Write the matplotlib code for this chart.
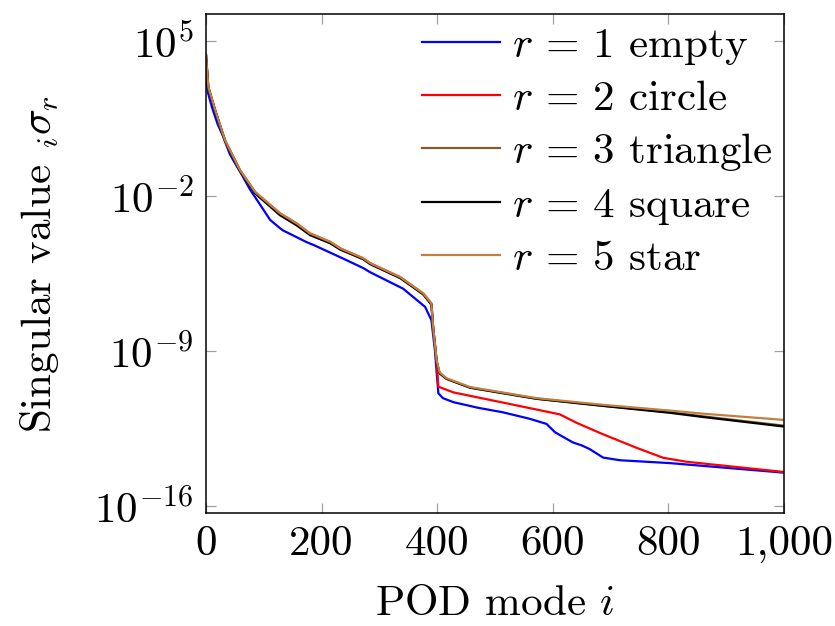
import numpy as np
import matplotlib
matplotlib.use("Agg")
import matplotlib.pyplot as plt
from matplotlib.ticker import FuncFormatter, FixedLocator, NullLocator

plt.rcParams["font.family"] = "serif"
plt.rcParams["font.serif"] = ["cmr10", "DejaVu Serif"]
plt.rcParams["mathtext.fontset"] = "cm"
plt.rcParams["axes.formatter.use_mathtext"] = True
plt.rcParams["axes.unicode_minus"] = False

# POD mode index and log10 of the singular value for each configuration
modes_r1 = [0, 1, 3, 10, 20, 30, 41, 47, 60, 76, 90, 111, 128, 133, 174, 187, 237, 272,
            284, 341, 379, 390, 396, 402, 410, 428, 470, 514, 560, 589, 604, 620, 635,
            650, 664, 687, 716, 803, 1000]
logsv_r1 = [3.85, 3.2, 2.7, 2.03, 1.25, 0.67, -0.1, -0.38, -0.95, -1.7, -2.25, -3.08,
            -3.45, -3.55, -4.08, -4.22, -4.82, -5.25, -5.44, -6.18, -7.0, -7.6, -8.95,
            -10.9, -11.12, -11.3, -11.55, -11.76, -12.05, -12.28, -12.66, -12.9, -13.12,
            -13.25, -13.42, -13.8, -13.92, -14.05, -14.48]

modes_upper = [0, 4, 16, 33, 59, 85, 128, 157, 180, 215, 232, 272, 284, 336, 376, 390,
               393, 399]
logsv_r5_upper = [4.37, 2.92, 1.87, 0.51, -0.84, -1.82, -2.78, -3.24, -3.69, -4.07,
                  -4.36, -4.81, -5.03, -5.66, -6.40, -6.85, -7.92, -9.42]
logsv_r4_upper = [4.35, 2.88, 1.83, 0.47, -0.88, -1.88, -2.86, -3.32, -3.76, -4.13,
                  -4.41, -4.85, -5.07, -5.70, -6.44, -6.90, -7.95, -9.45]

modes_tail = [404, 416, 457, 572, 687, 803, 860, 1000]
logsv_r5_tail = [-9.95, -10.22, -10.62, -11.12, -11.42, -11.68, -11.82, -12.10]
logsv_r4_tail = [-10.0, -10.25, -10.65, -11.15, -11.47, -11.78, -11.97, -12.40]
logsv_r3_tail = [-9.98, -10.24, -10.64, -11.14, -11.46, -11.76, -11.94, -12.36]

modes_r2_tail = [402, 428, 514, 612, 641, 687, 745, 791, 832, 1000]
logsv_r2_tail = [-10.6, -10.86, -11.32, -11.85, -12.23, -12.75, -13.36, -13.81, -13.99,
                 -14.45]

labels = [r"$r\,=\,1$ empty", r"$r\,=\,2$ circle", r"$r\,=\,3$ triangle",
          r"$r\,=\,4$ square", r"$r\,=\,5$ star"]
colors = ["#0000ff", "#ff0000", "#86592d", "#000000", "#c08040"]

series = [
    (modes_r1, logsv_r1),
    (modes_upper + modes_r2_tail, logsv_r5_upper + logsv_r2_tail),
    (modes_upper + modes_tail, logsv_r4_upper + logsv_r3_tail),
    (modes_upper + modes_tail, logsv_r4_upper + logsv_r4_tail),
    (modes_upper + modes_tail, logsv_r5_upper + logsv_r5_tail),
]

FS = 31

fig = plt.figure(figsize=(8.35, 6.26), dpi=100)
ax = fig.add_axes([206 / 835, 1 - 513 / 626, 578 / 835, 499 / 626])

for (x, ly), lab, c in zip(series, labels, colors):
    ax.plot(x, 10.0 ** np.asarray(ly), color=c, lw=1.6, label=lab)

ax.set_yscale("log")
ax.set_xlim(0, 1000)
ax.set_ylim(10 ** -16.30, 10 ** 6.21)
ax.xaxis.set_major_locator(FixedLocator([0, 200, 400, 600, 800, 1000]))
ax.xaxis.set_major_formatter(FuncFormatter(lambda v, p: f"{v:,.0f}"))
ax.yaxis.set_major_locator(FixedLocator([1e5, 1e-2, 1e-9, 1e-16]))
ax.yaxis.set_minor_locator(NullLocator())

ax.tick_params(axis="both", which="major", direction="in", length=7, width=0.9,
               color="#a0a0a0", top=True, right=True, labelsize=FS, pad=9)
for s in ax.spines.values():
    s.set_linewidth(1.1)
    s.set_color("black")

ax.set_xlabel(r"POD mode $i$", fontsize=FS, labelpad=16)
ax.set_ylabel(r"Singular value ${}_i\sigma_r$", fontsize=FS, labelpad=24)

ax.legend(loc="upper left", bbox_to_anchor=((422 - 206) / 578, 0.975), frameon=False,
          fontsize=FS, handlelength=1.8, handletextpad=0.3, labelspacing=0.31,
          borderpad=0, borderaxespad=0)

fig.savefig("out.png", dpi=100)
